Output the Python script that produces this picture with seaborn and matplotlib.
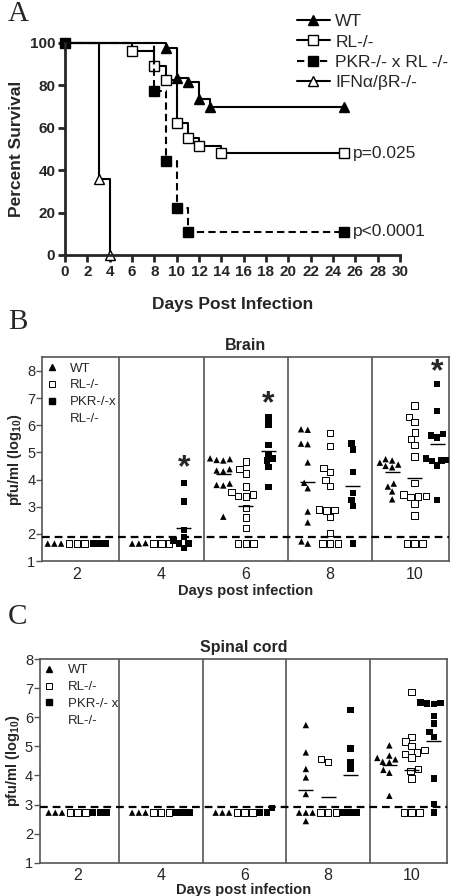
import matplotlib
matplotlib.use("Agg")
import matplotlib.pyplot as plt
from matplotlib.lines import Line2D
from matplotlib.transforms import offset_copy
import pandas as pd
import seaborn as sns

# ── Panel A: survival curves ──────────────────────────────────────────────────
wt_days = [0, 9, 10, 11, 12, 13, 25]
wt_surv = [100, 97.5, 83.3, 81.5, 73.5, 69.7, 69.7]
rl_days = [0, 6, 8, 9, 10, 11, 12, 14, 25]
rl_surv = [100, 96.4, 89.3, 82.5, 62.1, 55.0, 51.6, 48.0, 48.0]
pkr_days = [0, 8, 9, 10, 11, 25]
pkr_surv = [100, 77.5, 44.3, 22.0, 11.0, 11.0]
ifn_days = [0, 3, 4]
ifn_surv = [100, 36.0, 0]
p_labels = ["p=0.025", "p<0.0001"]
p_y = [48.0, 11.0]

# ── Panels B/C: virus titres ──────────────────────────────────────────────────
days = ["2", "4", "6", "8", "10"]
genotypes = ["WT", "RL-/-", "PKR-/- x RL-/-"]

brain_wt = [
    [1.64, 1.64, 1.64],
    [1.64, 1.64, 1.66],
    [4.78, 4.72, 4.70, 4.75, 4.38, 4.33, 4.30, 3.80, 3.78, 3.85, 2.63],
    [5.85, 5.83, 5.32, 5.30, 4.63, 3.88, 3.68, 2.82, 2.42, 1.72, 1.64],
    [4.75, 4.70, 4.62, 4.55, 4.50, 4.45, 3.85, 3.74, 3.56, 3.27],
]
brain_rl = [
    [1.64, 1.64, 1.64],
    [1.64, 1.64, 1.64],
    [4.67, 4.38, 4.22, 3.75, 3.55, 3.45, 3.38, 3.40, 2.95, 2.60, 2.22, 1.64, 1.64, 1.64],
    [5.72, 5.24, 4.42, 4.28, 3.98, 3.77, 2.90, 2.88, 2.86, 2.62, 2.02, 1.64, 1.64, 1.64],
    [6.72, 6.30, 6.12, 5.73, 5.50, 5.26, 4.85, 3.87, 3.45, 3.40, 3.35, 3.38, 3.12, 2.68,
     1.64, 1.64, 1.64],
]
brain_pkr = [
    [1.64, 1.64, 1.64],
    [3.88, 3.19, 2.15, 1.88, 1.75, 1.64, 1.64, 1.47],
    [6.28, 6.02, 5.28, 4.95, 4.78, 4.70, 4.47, 3.73],
    [5.33, 5.10, 4.28, 3.50, 3.25, 3.02, 1.64],
    [7.52, 6.53, 5.67, 5.62, 5.55, 4.77, 4.72, 4.70, 4.68, 4.52, 3.25],
]
brain_means = [
    [None, None, 4.20, 3.92, 4.27],
    [None, None, 3.03, None, 4.05],
    [None, 2.22, 5.06, 3.75, 5.30],
]
brain_stars = [None, 4.64, 7.0, None, 8.17]
brain_limit = 1.87

cord_wt = [
    [2.72, 2.72, 2.72],
    [2.72, 2.72, 2.72],
    [2.72, 2.72, 2.72],
    [5.73, 4.79, 4.22, 3.93, 3.36, 2.72, 2.72, 2.72, 2.43],
    [5.03, 4.68, 4.60, 4.55, 4.47, 4.45, 4.19, 4.09, 3.30],
]
cord_rl = [
    [2.72, 2.72, 2.72],
    [2.72, 2.72, 2.72],
    [2.72, 2.72, 2.72],
    [4.57, 4.47, 2.72, 2.72, 2.72],
    [6.87, 5.31, 5.16, 5.01, 4.87, 4.79, 4.73, 4.61, 4.22, 4.15, 3.90, 2.72, 2.72, 2.72],
]
cord_pkr = [
    [2.72, 2.72, 2.72],
    [2.72, 2.72, 2.72],
    [2.87, 2.72, 2.72],
    [6.25, 4.92, 4.44, 4.22, 2.72, 2.72, 2.72],
    [6.50, 6.48, 6.47, 6.45, 6.04, 5.79, 5.50, 5.33, 3.90, 3.02, 2.72],
]
cord_means = [
    [None, None, None, 3.50, 4.37],
    [None, None, None, 3.25, 4.20],
    [None, None, None, 4.02, 5.19],
]
cord_stars = [None, None, None, None, None]
cord_limit = 2.92

sns.set_theme(style="ticks")
plt.rcParams["font.family"] = ["Liberation Sans", "DejaVu Sans"]
plt.rcParams["mathtext.fontset"] = "custom"
plt.rcParams["mathtext.bf"] = "Liberation Sans:bold"
plt.rcParams["mathtext.rm"] = "Liberation Sans:bold"

W, H = 458, 896
fig = plt.figure(figsize=(W / 100, H / 100), dpi=100)


def px_axes(left, top, right, bottom):
    return fig.add_axes([left / W, 1 - bottom / H, (right - left) / W, (bottom - top) / H])


# ── A ─────────────────────────────────────────────────────────────────────────
axA = px_axes(65, 43, 400, 255)
curves = [
    (ifn_days, ifn_surv, "^", "white", "-", slice(1, None)),
    (rl_days, rl_surv, "s", "white", "-", slice(1, None)),
    (wt_days, wt_surv, "^", "black", "-", slice(1, None)),
    (pkr_days, pkr_surv, "s", "black", (0, (3.5, 2)), slice(0, None)),
]
for d, s, m, fc, ls, every in curves:
    sns.lineplot(x=d, y=s, drawstyle="steps-post", color="black", lw=1.5,
                 linestyle=ls, marker=m, markerfacecolor=fc, markeredgecolor="black",
                 markeredgewidth=1, markersize=6.5, markevery=every,
                 clip_on=False, ax=axA)

for lbl, y in zip(p_labels, p_y):
    axA.text(25.8, y, lbl, ha="left", va="center", fontsize=12.5)

axA.set_xlim(0, 30)
axA.set_ylim(0, 100)
axA.set_xticks(range(0, 31, 2))
axA.set_yticks(range(0, 101, 20))
sns.despine(ax=axA)
for sp in ("left", "bottom"):
    axA.spines[sp].set_linewidth(2)
axA.tick_params(width=2, length=5, labelsize=11, pad=2)
plt.setp(axA.get_xticklabels() + axA.get_yticklabels(), fontweight="bold")
axA.set_xlabel("Days Post Infection", fontsize=12.5, fontweight="bold", labelpad=13)
axA.set_ylabel("Percent Survival", fontsize=12.5, fontweight="bold", labelpad=4)

legA = [
    Line2D([], [], color="black", lw=1.5, marker="^", mfc="black", mec="black", ms=7),
    Line2D([], [], color="black", lw=1.5, marker="s", mfc="white", mec="black", ms=7),
    Line2D([], [], color="black", lw=1.5, ls=(0, (3.5, 2)), marker="s", mfc="black", mec="black", ms=7),
    Line2D([], [], color="black", lw=1.5, marker="^", mfc="white", mec="black", ms=7),
]
fig.legend(legA, ["WT", "RL-/-", "PKR-/- x RL -/-", "IFNα/βR-/-"],
           loc="upper left", bbox_to_anchor=(297 / W, 1 - 14 / H), frameon=False,
           fontsize=12.5, handlelength=1.9, handletextpad=0.3, labelspacing=0.3,
           borderpad=0, borderaxespad=0)

# ── B / C ─────────────────────────────────────────────────────────────────────
styles = {"WT": ("^", "black", 0), "RL-/-": ("s", "white", 0.7),
          "PKR-/- x RL-/-": ("s", "black", 0)}
off = 0.8 / 3
offsets = [-off, 0, off]


def tissue_panel(ax, series, means, stars, limit, ylim, xlim, title, pkr_label, xpad):
    rows = []
    for g, ser in zip(genotypes, series):
        for d, vals in zip(days, ser):
            rows += [(d, g, v) for v in vals]
    df = pd.DataFrame(rows, columns=["day", "genotype", "value"])

    for g in genotypes:
        m, fc, lw = styles[g]
        sns.swarmplot(data=df[df["genotype"] == g], x="day", y="value", hue="genotype",
                      order=days, hue_order=genotypes, dodge=True,
                      palette={k: fc for k in genotypes}, marker=m, size=4.6,
                      edgecolor="black", linewidth=lw, legend=False, ax=ax, zorder=3)

    for gi, mrow in enumerate(means):
        for di, mv in enumerate(mrow):
            if mv is not None:
                x = di + offsets[gi]
                ax.hlines(mv, x - 0.09, x + 0.09, color="black", lw=1, zorder=4)

    star_tr = offset_copy(ax.transData, fig=fig, x=0, y=-6, units="dots")
    for di, sv in enumerate(stars):
        if sv is not None:
            ax.text(di + offsets[2], sv, "*", ha="center", va="center",
                    fontsize=23, fontweight="bold", transform=star_tr)

    for xv in (0.5, 1.5, 2.5, 3.5):
        ax.axvline(xv, color="#555555", lw=1.2)
    ax.axhline(limit, color="black", lw=1.6, ls=(0, (3.5, 2.2)), zorder=5)

    ax.set_xlim(*xlim)
    ax.set_ylim(*ylim)
    ax.set_yticks(range(1, 9))
    for sp in ax.spines.values():
        sp.set_color("#555555")
        sp.set_linewidth(1.2)
    ax.tick_params(axis="x", length=0, labelsize=11.5, pad=4)
    ax.tick_params(axis="y", length=4, width=1, color="#555555", labelsize=10.5, pad=1)
    ax.set_title(title, fontsize=11.5, fontweight="bold", pad=5)
    ax.set_xlabel("Days post infection", fontsize=10.5, fontweight="bold", labelpad=xpad)
    ax.set_ylabel(r"pfu/ml (log$_{\mathbf{10}}$)", fontsize=10.5, fontweight="bold", labelpad=2)

    handles = [
        Line2D([], [], ls="none", marker="^", mfc="black", mec="black", ms=4.8),
        Line2D([], [], ls="none", marker="s", mfc="white", mec="black", mew=0.7, ms=4.5),
        Line2D([], [], ls="none", marker="s", mfc="black", mec="black", ms=4.5),
        Line2D([], [], ls="none"),
    ]
    ax.legend(handles, ["WT", "RL-/-", pkr_label, "RL-/-"], loc="upper left",
              bbox_to_anchor=(0.007, 0.975), frameon=False, fontsize=9.5,
              handlelength=1.0, handletextpad=0.9, labelspacing=0.35,
              borderpad=0, borderaxespad=0)


axB = px_axes(42.3, 357.3, 449.3, 561)
tissue_panel(axB, (brain_wt, brain_rl, brain_pkr), brain_means, brain_stars,
             brain_limit, (1, 8.5), (-0.41, 4.41), "Brain", "PKR-/-x", 2)

axC = px_axes(40, 659, 446.7, 862.7)
tissue_panel(axC, (cord_wt, cord_rl, cord_pkr), cord_means, cord_stars,
             cord_limit, (1, 8), (-0.45, 4.42), "Spinal cord", "PKR-/- x", 0)

for letter, y in (("A", 14), ("B", 322), ("C", 617)):
    fig.text(8 / W, 1 - y / H, letter, ha="left", va="center", fontsize=21,
             family=["Liberation Serif", "DejaVu Serif"])

fig.savefig("out.png", dpi=100)
